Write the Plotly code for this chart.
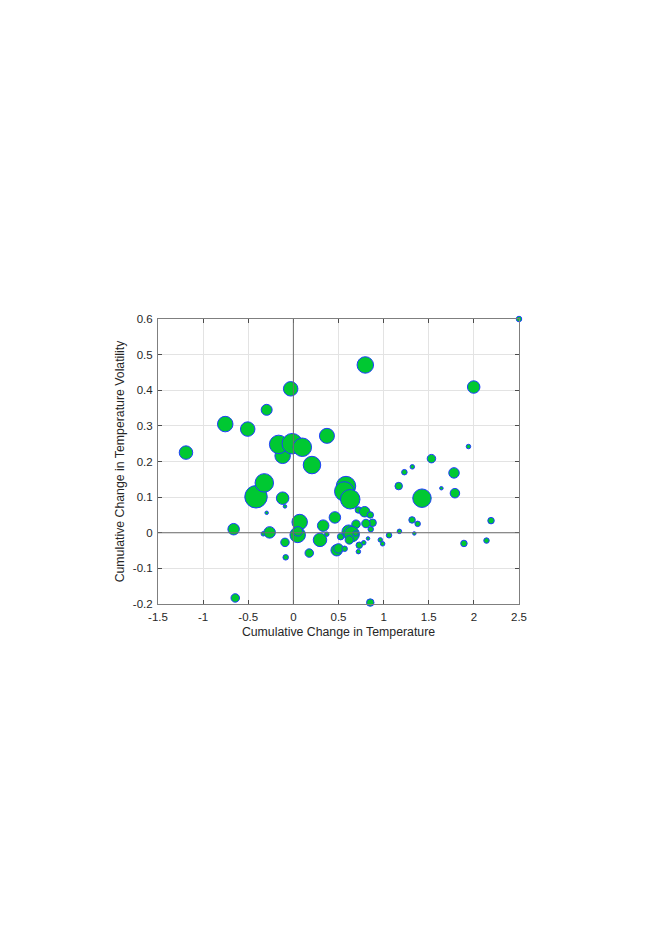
import plotly.graph_objects as go

# Bubble data: temperature change, volatility change, bubble diameter (px)
temp_change = [
    -1.19, -0.755, -0.506, -0.296, -0.03, 0.372, -0.119, -0.163, -0.012, 0.099,
    0.206, 0.797, -0.414, -0.322, -0.119, -0.093, -0.296, -0.662, -0.333, -0.263,
    -0.093, -0.085, -0.644, 0.07, 0.048, 0.05, 0.176, 0.295, 0.33, 0.37,
    0.46, 0.48, 0.583, 0.564, 0.63, 0.72, 0.79, 0.852, 0.878, 0.804,
    0.857, 0.694, 0.524, 0.613, 0.646, 0.62, 0.69, 0.50, 0.568, 0.73,
    0.78, 0.72, 0.827, 0.852, 0.963, 0.989, 1.06, 1.175, 1.167, 1.23,
    1.318, 1.315, 1.377, 1.34, 1.425, 2.5, 1.998, 1.94, 1.53, 1.78,
    1.64, 1.79, 2.19, 1.89, 2.14,
]
vol_change = [
    0.225, 0.305, 0.291, 0.345, 0.404, 0.272, 0.216, 0.248, 0.25, 0.24,
    0.19, 0.471, 0.101, 0.14, 0.097, 0.074, 0.056, 0.010, -0.003, 0.001,
    -0.027, -0.069, -0.183, 0.03, -0.006, 0.004, -0.057, -0.02, 0.02, -0.004,
    0.043, -0.049, 0.131, 0.116, 0.094, 0.064, 0.059, 0.05, 0.028, 0.026,
    0.010, 0.024, -0.011, 0.003, -0.004, -0.02, -0.002, -0.044, -0.045, -0.035,
    -0.028, -0.053, -0.016, -0.196, -0.02, -0.031, -0.007, 0.004, 0.131, 0.17,
    0.185, 0.036, 0.025, -0.002, 0.097, 0.6, 0.409, 0.242, 0.208, 0.168,
    0.125, 0.111, 0.034, -0.03, -0.022,
]
bubble_size = [
    14, 16, 15, 11.5, 15, 15.5, 16, 19, 21, 19,
    18, 17, 23, 19, 13, 4, 4, 12, 5, 12,
    9, 6, 9, 16, 16, 10, 9, 14, 12, 5,
    12, 12, 20, 20, 20, 7, 11, 7, 8, 9,
    6, 9, 7, 14, 16, 9, 6, 10, 6, 7,
    5, 5, 4, 8, 5, 5, 6, 5, 8, 6,
    5, 7, 6, 4, 19, 6, 13, 5, 9, 11,
    4, 10, 7, 7, 6,
]

X_TICKS = [-1.5, -1, -0.5, 0, 0.5, 1, 1.5, 2, 2.5]
Y_TICKS = [-0.2, -0.1, 0, 0.1, 0.2, 0.3, 0.4, 0.5, 0.6]

AXIS_COLOR = "#262626"
FONT = "Liberation Sans, Arial, sans-serif"

fig = go.Figure()
fig.add_trace(
    go.Scatter(
        x=temp_change,
        y=vol_change,
        mode="markers",
        cliponaxis=False,
        marker=dict(
            size=[s - 0.5 for s in bubble_size],
            color="#00c832",
            line=dict(color="#1f3cff", width=1),
            opacity=1,
        ),
        showlegend=False,
        hoverinfo="x+y",
    )
)

# dark reference lines through the origin, drawn over the bubbles
fig.add_shape(type="line", xref="x", yref="y domain", x0=0, x1=0, y0=0, y1=1,
              line=dict(color="#6e6e6e", width=1), layer="above")
fig.add_shape(type="line", xref="x domain", yref="y", x0=0, x1=1, y0=0, y1=0,
              line=dict(color="#6e6e6e", width=1), layer="above")

axis_common = dict(
    showgrid=True,
    gridcolor="#e3e3e3",
    gridwidth=1,
    zeroline=False,
    showline=True,
    linecolor="#7f7f7f",
    linewidth=1,
    mirror="ticks",
    ticks="inside",
    ticklen=4,
    tickcolor="#4d4d4d",
    ticklabelstandoff=2,
    tickfont=dict(family=FONT, size=11.5, color=AXIS_COLOR),
)

fig.update_xaxes(
    range=[-1.5, 2.5],
    tickvals=X_TICKS,
    ticktext=[f"{t:g}" for t in X_TICKS],
    title=dict(text="Cumulative Change in Temperature", standoff=5,
               font=dict(family=FONT, size=12.3, color=AXIS_COLOR)),
    **axis_common,
)
fig.update_yaxes(
    range=[-0.2, 0.6],
    tickvals=Y_TICKS,
    ticktext=[f"{t:g}" for t in Y_TICKS],
    title=dict(text="Cumulative Change in Temperature Volatility", standoff=5,
               font=dict(family=FONT, size=12.3, color=AXIS_COLOR)),
    **axis_common,
)

# the page adds an 8px body margin, so the margins are set 8px short
fig.update_layout(
    width=661,
    height=936,
    margin=dict(l=150, r=150, t=311, b=340),
    paper_bgcolor="white",
    plot_bgcolor="white",
)

fig.write_html("out.html")
